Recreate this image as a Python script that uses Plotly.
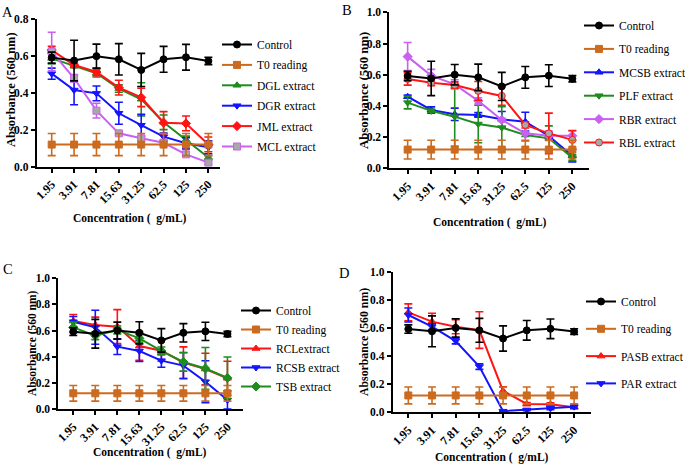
import plotly.graph_objects as go

W, H = 685, 464
conc = ["1.95", "3.91", "7.81", "15.63", "31.25", "62.5", "125", "250"]

control_mean = [0.592, 0.576, 0.6, 0.583, 0.525, 0.583, 0.594, 0.574]
control_err = [0.03, 0.11, 0.065, 0.085, 0.09, 0.07, 0.07, 0.02]
t0_mean = [0.12, 0.12, 0.12, 0.12, 0.12, 0.12, 0.12, 0.12]
t0_err = [0.06, 0.06, 0.06, 0.06, 0.06, 0.06, 0.06, 0.06]

# Panel A
dgl_mean = [0.588, 0.547, 0.507, 0.424, 0.366, 0.241, 0.146, 0.05]
dgl_err = [0.03, 0.01, 0.02, 0.02, 0.09, 0.04, 0.02, 0.01]
dgr_mean = [0.505, 0.416, 0.398, 0.29, 0.225, 0.163, 0.127, 0.105]
dgr_err = [0.03, 0.08, 0.04, 0.06, 0.06, 0.02, 0.03, 0.035]
jml_mean = [0.633, 0.552, 0.514, 0.429, 0.376, 0.239, 0.235, 0.121]
jml_err = [0.02, 0.01, 0.02, 0.04, 0.05, 0.06, 0.04, 0.04]
mcl_mean = [0.625, 0.48, 0.304, 0.181, 0.154, 0.13, 0.067, 0.022]
mcl_err = [0.105, 0.02, 0.04, 0.01, 0.01, 0.01, 0.01, 0.01]

# Panel B
mcsb_mean = [0.459, 0.374, 0.346, 0.342, 0.314, 0.299, 0.207, 0.081]
mcsb_err = [0.01, 0.02, 0.04, 0.015, 0.05, 0.06, 0.02, 0.04]
plf_mean = [0.421, 0.368, 0.331, 0.284, 0.261, 0.214, 0.192, 0.068]
plf_err = [0.04, 0.01, 0.19, 0.12, 0.134, 0.01, 0.08, 0.02]
rbr_mean = [0.716, 0.594, 0.538, 0.432, 0.31, 0.224, 0.209, 0.209]
rbr_err = [0.09, 0.04, 0.03, 0.02, 0.01, 0.05, 0.03, 0.03]
rbl_mean = [0.573, 0.549, 0.534, 0.496, 0.464, 0.278, 0.224, 0.182]
rbl_err = [0.04, 0.02, 0.02, 0.06, 0.06, 0.02, 0.13, 0.06]

# Panel C
rcl_mean = [0.673, 0.643, 0.63, 0.482, 0.446, 0.355, 0.306, 0.235]
rcl_err = [0.05, 0.06, 0.13, 0.11, 0.08, 0.12, 0.12, 0.13]
rcsb_mean = [0.668, 0.625, 0.477, 0.444, 0.37, 0.332, 0.209, 0.069]
rcsb_err = [0.04, 0.13, 0.06, 0.08, 0.05, 0.10, 0.16, 0.07]
tsb_mean = [0.625, 0.561, 0.605, 0.541, 0.444, 0.36, 0.31, 0.238]
tsb_err = [0.04, 0.03, 0.03, 0.03, 0.03, 0.07, 0.16, 0.16]

# Panel D
pasb_mean = [0.711, 0.645, 0.609, 0.585, 0.152, 0.059, 0.057, 0.036]
pasb_err = [0.06, 0.06, 0.05, 0.13, 0.03, 0.01, 0.01, 0.01]
par_mean = [0.692, 0.609, 0.507, 0.325, 0.008, 0.017, 0.028, 0.04]
par_err = [0.05, 0.02, 0.02, 0.02, 0.005, 0.005, 0.01, 0.01]

BLACK = "#000000"
ORANGE = "#CC6A1E"
GREEN = "#1E8C1E"
BLUE = "#1414FF"
RED = "#FF1414"
VIOLET = "#C860F0"
GRAY = "#A8A8A8"

SERIF = "Liberation Serif"

panels = [
    dict(key="A", range=[-0.67, 7.52], ymax=0.8,
         xpx=(36.7, 220.0), ypx=(19.3, 166.7),
         series=[
             ("DGL extract", dgl_mean, dgl_err, GREEN, "triangle-up", GREEN),
             ("DGR extract", dgr_mean, dgr_err, BLUE, "triangle-down", BLUE),
             ("JML extract", jml_mean, jml_err, RED, "diamond", RED),
             ("MCL extract", mcl_mean, mcl_err, VIOLET, "square", GRAY),
         ],
         legend=dict(x=217, y=30, gap=1.4)),
    dict(key="B", range=[-0.78, 7.72], ymax=1.0,
         xpx=(389.3, 589.3), ypx=(12.3, 168.3),
         series=[
             ("MCSB extract", mcsb_mean, mcsb_err, BLUE, "triangle-up", BLUE),
             ("PLF extract", plf_mean, plf_err, GREEN, "triangle-down", GREEN),
             ("RBR extract", rbr_mean, rbr_err, VIOLET, "diamond", VIOLET),
             ("RBL extract", rbl_mean, rbl_err, RED, "circle", GRAY),
         ],
         legend=dict(x=579, y=11, gap=4.4)),
    dict(key="C", range=[-0.68, 7.72], ymax=1.0,
         xpx=(58.3, 243.3), ypx=(278.3, 409.0),
         series=[
             ("RCLextract", rcl_mean, rcl_err, RED, "triangle-up", RED),
             ("RCSB extract", rcsb_mean, rcsb_err, BLUE, "triangle-down", BLUE),
             ("TSB extract", tsb_mean, tsb_err, GREEN, "diamond", GREEN),
         ],
         legend=dict(x=236, y=296, gap=0)),
    dict(key="D", range=[-0.66, 7.70], ymax=1.0,
         xpx=(392.7, 590.7), ypx=(271.7, 412.3),
         series=[
             ("PASB extract", pasb_mean, pasb_err, RED, "triangle-up", RED),
             ("PAR extract", par_mean, par_err, BLUE, "triangle-down", BLUE),
         ],
         legend=dict(x=581, y=287, gap=8.3)),
]

fig = go.Figure()
layout = dict(
    width=W, height=H, margin=dict(l=0, r=0, t=0, b=0, autoexpand=False),
    paper_bgcolor="white", plot_bgcolor="white", showlegend=True,
    font=dict(family=SERIF, color="black"),
)
annotations = []

for i, p in enumerate(panels):
    n = i + 1
    xa = "x" if n == 1 else f"x{n}"
    ya = "y" if n == 1 else f"y{n}"
    leg = "legend" if n == 1 else f"legend{n}"
    all_series = [
        ("Control", control_mean, control_err, BLACK, "circle", BLACK),
        ("T0 reading", t0_mean, t0_err, ORANGE, "square", ORANGE),
    ] + p["series"]
    # draw extracts first, then T0 and Control on top
    order = list(range(2, len(all_series))) + [1, 0]
    for idx in order:
        name, m, e, col, sym, fill = all_series[idx]
        fig.add_trace(go.Scatter(
            x=conc, y=m, name=name, mode="lines+markers",
            xaxis=xa, yaxis=ya, legend=leg,
            legendrank=idx + 1, legendgroup=f"{p['key']}{idx}",
            line=dict(color=col, width=2),
            marker=dict(symbol=sym, size=7, color=fill,
                        line=dict(color=col, width=1)),
            error_y=dict(type="data", array=e, visible=True,
                         color=col, thickness=1.6, width=4),
        ))
    x0, x1 = p["xpx"]
    yt, yb = p["ypx"]
    axis_common = dict(showline=True, linecolor="black", linewidth=2,
                       ticks="outside", ticklen=4, tickwidth=2, tickcolor="black",
                       showgrid=False, zeroline=False, automargin=False)
    layout["xaxis" if n == 1 else f"xaxis{n}"] = dict(
        domain=[x0 / W, x1 / W], anchor=ya, type="category",
        range=p["range"], tickangle=-45,
        tickfont=dict(family=SERIF, size=12, color="black", weight="bold"),
        **axis_common)
    layout["yaxis" if n == 1 else f"yaxis{n}"] = dict(
        domain=[1 - yb / H, 1 - yt / H], anchor=xa,
        range=[0, p["ymax"]], tickvals=[v / 10 for v in range(0, int(p["ymax"] * 10) + 1, 2)],
        tickformat=".1f",
        tickfont=dict(family=SERIF, size=11.5, color="black", weight="bold"),
        **axis_common)
    lg = p["legend"]
    layout[leg] = dict(
        x=lg["x"] / W, y=1 - lg["y"] / H, xanchor="left", yanchor="top",
        bgcolor="rgba(0,0,0,0)", font=dict(family=SERIF, size=11.5, color="black"),
        tracegroupgap=lg["gap"], itemwidth=30,
    )

# Panel letters
for txt, x, y, anc in [("A", 8, 12, "middle"), ("B", 347, 0, "top"),
                       ("C", 8, 269, "middle"), ("D", 344, 273, "middle")]:
    annotations.append(dict(text=txt, x=x / W, y=1 - y / H, xref="paper", yref="paper",
                            showarrow=False, xanchor="center", yanchor=anc,
                            font=dict(family=SERIF, size=14.5, color="black")))
# Axis titles
for x, y, s in [(11, 90, 12.5), (364, 91, 12.8), (32, 343, 11.5), (364, 342, 11.8)]:
    annotations.append(dict(text="Absorbance (560 nm)", x=x / W, y=1 - y / H,
                            xref="paper", yref="paper", showarrow=False, textangle=-90,
                            xanchor="center", yanchor="middle",
                            font=dict(family=SERIF, size=s, color="black", weight="bold")))
for x, y in [(130, 218), (490, 222), (150, 452), (492, 457)]:
    annotations.append(dict(text="Concentration (  g/mL)", x=x / W, y=1 - y / H,
                            xref="paper", yref="paper", showarrow=False,
                            xanchor="center", yanchor="middle",
                            font=dict(family=SERIF, size=11.5, color="black", weight="bold")))

layout["annotations"] = annotations
fig.update_layout(**layout)
# remove the browser's default 8px page margin so the figure fills the window exactly
fig.write_html("out.html", config={"displayModeBar": False},
               post_script="document.body.style.margin='0px';")
